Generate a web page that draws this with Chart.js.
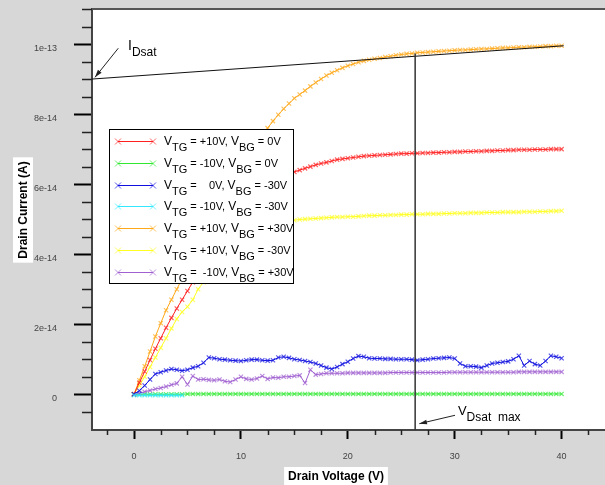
<!DOCTYPE html>
<html>

<head>
    <title>Drain current vs drain voltage</title>
    <script src="https://cdn.jsdelivr.net/npm/chart.js"></script>
    <style>
        body { margin: 0; background: #d7d7d7; }
    </style>
</head>

<body>
    <canvas id="ivChart" width="605" height="485"></canvas>
    <script>
        // drain voltage (V), shared by all curves
        const vd = [0, 0.5, 1, 1.5, 2, 2.5, 3, 3.5, 4, 4.5, 5, 5.5, 6, 6.5, 7, 7.5, 8, 8.5, 9, 9.5,
            10, 10.5, 11, 11.5, 12, 12.5, 13, 13.5, 14, 14.5, 15, 15.5, 16, 16.5, 17, 17.5, 18, 18.5, 19, 19.5,
            20, 20.5, 21, 21.5, 22, 22.5, 23, 23.5, 24, 24.5, 25, 25.5, 26, 26.5, 27, 27.5, 28, 28.5, 29, 29.5,
            30, 30.5, 31, 31.5, 32, 32.5, 33, 33.5, 34, 34.5, 35, 35.5, 36, 36.5, 37, 37.5, 38, 38.5, 39, 39.5, 40];

        // drain current, in units of 1e-14 A
        const iRed = [0, 0.33, 0.65, 0.98, 1.3, 1.6, 1.9, 2.18, 2.45, 2.7, 2.95, 3.2, 3.45, 3.68, 3.9, 4.1, 4.3, 4.5, 4.7, 4.88,
            5.05, 5.2, 5.35, 5.5, 5.65, 5.78, 5.9, 6.03, 6.15, 6.25, 6.35, 6.4, 6.45, 6.5, 6.55, 6.59, 6.62, 6.66, 6.7, 6.72,
            6.74, 6.76, 6.78, 6.8, 6.81, 6.82, 6.83, 6.84, 6.85, 6.86, 6.87, 6.87, 6.88, 6.88, 6.89, 6.89, 6.9, 6.9, 6.91, 6.91,
            6.92, 6.92, 6.93, 6.93, 6.94, 6.94, 6.95, 6.95, 6.96, 6.96, 6.97, 6.97, 6.98, 6.98, 6.98, 6.99, 6.99, 6.99, 7.0, 7.0, 7.0];
        const iGreen = [0, 0, 0, 0, 0, 0, 0, 0, 0, 0, 0.01, 0.01, 0.01, 0.01, 0.01, 0.01, 0.01, 0.01, 0.01, 0.01,
            0.01, 0.01, 0.01, 0.01, 0.01, 0.01, 0.01, 0.01, 0.01, 0.01, 0.01, 0.01, 0.01, 0.01, 0.01, 0.01, 0.01, 0.01, 0.01, 0.01,
            0.01, 0.01, 0.01, 0.01, 0.01, 0.01, 0.01, 0.01, 0.01, 0.01, 0.01, 0.01, 0.01, 0.01, 0.01, 0.01, 0.01, 0.01, 0.01, 0.01,
            0.01, 0.01, 0.01, 0.01, 0.01, 0.01, 0.01, 0.01, 0.01, 0.01, 0.01, 0.01, 0.01, 0.01, 0.01, 0.01, 0.01, 0.01, 0.01, 0.01, 0.01];
        const iBlue = [0, 0.1, 0.25, 0.42, 0.58, 0.63, 0.68, 0.72, 0.7, 0.67, 0.7, 0.76, 0.8, 0.9, 1.05, 1.03, 1.0, 0.99, 0.97, 0.96,
            0.95, 0.97, 0.99, 0.99, 0.97, 0.96, 0.97, 1.05, 1.07, 1.04, 1.0, 0.98, 0.95, 0.92, 0.88, 0.82, 0.76, 0.72, 0.78, 0.86,
            0.93, 1.02, 1.09, 1.07, 1.03, 1.02, 1.02, 1.01, 1.01, 1.0, 1.0, 1.0, 0.99, 0.97, 0.99, 1.0, 1.02, 1.03, 1.04, 1.05,
            1.02, 0.88, 0.8, 0.8, 0.79, 0.76, 0.82, 0.88, 0.9, 0.92, 0.94, 1.0, 1.1, 0.82, 0.95, 0.86, 0.82, 0.95, 1.1, 1.07, 1.03];
        const iCyan = [-0.03, -0.03, -0.03, -0.03, -0.03, -0.03, -0.03, -0.03, -0.03, -0.03];
        const iOrange = [0, 0.4, 0.8, 1.22, 1.65, 2.03, 2.4, 2.7, 3.0, 3.3, 3.6, 3.9, 4.2, 4.5, 4.8, 5.08, 5.35, 5.63, 5.9, 6.15,
            6.4, 6.65, 6.9, 7.15, 7.4, 7.6, 7.8, 7.98, 8.15, 8.3, 8.45, 8.56, 8.67, 8.79, 8.9, 9.0, 9.1, 9.18, 9.25, 9.32,
            9.38, 9.43, 9.48, 9.52, 9.55, 9.58, 9.6, 9.63, 9.65, 9.68, 9.7, 9.72, 9.73, 9.75, 9.76, 9.77, 9.78, 9.79, 9.8, 9.81,
            9.82, 9.83, 9.83, 9.84, 9.85, 9.86, 9.86, 9.87, 9.88, 9.89, 9.89, 9.9, 9.91, 9.91, 9.92, 9.92, 9.93, 9.94, 9.94, 9.95, 9.95];
        const iYellow = [0, 0.25, 0.5, 0.78, 1.05, 1.33, 1.6, 1.88, 2.15, 2.35, 2.5, 2.7, 3.0, 3.2, 3.4, 3.58, 3.75, 3.9, 4.05, 4.18,
            4.3, 4.4, 4.5, 4.58, 4.65, 4.73, 4.8, 4.85, 4.9, 4.94, 4.97, 4.99, 5.0, 5.01, 5.02, 5.03, 5.04, 5.05, 5.06, 5.06,
            5.07, 5.07, 5.08, 5.09, 5.1, 5.1, 5.11, 5.11, 5.12, 5.12, 5.13, 5.13, 5.14, 5.14, 5.14, 5.15, 5.15, 5.15, 5.16, 5.16,
            5.17, 5.17, 5.17, 5.18, 5.18, 5.18, 5.19, 5.19, 5.19, 5.2, 5.2, 5.2, 5.2, 5.21, 5.21, 5.21, 5.22, 5.22, 5.23, 5.23, 5.24];
        const iPurple = [0, 0.03, 0.07, 0.11, 0.15, 0.18, 0.22, 0.27, 0.31, 0.5, 0.28, 0.52, 0.42, 0.43, 0.41, 0.4, 0.42, 0.37, 0.35, 0.42,
            0.5, 0.44, 0.42, 0.45, 0.52, 0.44, 0.48, 0.47, 0.5, 0.5, 0.52, 0.54, 0.32, 0.7, 0.56, 0.58, 0.6, 0.6, 0.6, 0.6,
            0.61, 0.61, 0.61, 0.61, 0.61, 0.61, 0.61, 0.61, 0.62, 0.62, 0.62, 0.62, 0.62, 0.62, 0.62, 0.62, 0.62, 0.62, 0.62, 0.63,
            0.63, 0.63, 0.63, 0.63, 0.63, 0.63, 0.63, 0.63, 0.63, 0.63, 0.63, 0.63, 0.64, 0.64, 0.64, 0.64, 0.64, 0.64, 0.64, 0.64, 0.64];

        const seriesTG = ['+10V', '-10V', '   0V', '-10V', '+10V', '+10V', ' -10V'];
        const seriesBG = ['0V', '0V', '-30V', '-30V', '+30V', '-30V', '+30V'];
        const seriesColors = ['#ff2020', '#30e830', '#1010e0', '#30e8ff', '#ffa818', '#ffff20', '#a060d0'];
        const seriesOrder = [2, 3, 1, 0, 4, 5, 2];
        const seriesValues = [iRed, iGreen, iBlue, iCyan, iOrange, iYellow, iPurple];

        const xTicks = [0, 10, 20, 30, 40];
        const yTicks = [0, 2, 4, 6, 8, 10];
        const yTickLabels = ['0', '2e-14', '4e-14', '6e-14', '8e-14', '1e-13'];

        // I_Dsat line and V_Dsat max line (V, 1e-14 A)
        const idsatLineV = [-3.93, 40.2];
        const idsatLineI = [9.0, 9.95];
        const vdsatLineV = [26.3, 26.3];
        const vdsatLineI = [9.73, -1.02];
        const idsatArrow = { tail: [-1.47, 9.88], head: [-3.65, 9.05], text: [-0.56, 9.83] };
        const vdsatArrow = { tail: [30.03, -0.6], head: [26.69, -0.84], text: [30.3, -0.6] };

        const FONT = '"Liberation Sans", Arial, sans-serif';

        function withAlpha(hex, a) {
            const n = parseInt(hex.slice(1), 16);
            return `rgba(${n >> 16}, ${(n >> 8) & 255}, ${n & 255}, ${a})`;
        }

        const datasets = seriesValues.map((vals, k) => ({
            data: vals.map((v, i) => ({ x: vd[i], y: v })),
            order: seriesOrder[k],
            showLine: true,
            borderColor: seriesColors[k],
            borderWidth: 1,
            pointStyle: 'crossRot',
            pointRadius: 3,
            pointBorderWidth: 1.2,
            pointBorderColor: withAlpha(seriesColors[k], 0.7),
            pointBackgroundColor: 'transparent'
        }));

        function drawArrow(ctx, x1, y1, x2, y2) {
            ctx.beginPath();
            ctx.moveTo(x1, y1);
            ctx.lineTo(x2, y2);
            ctx.stroke();
            const a = Math.atan2(y2 - y1, x2 - x1);
            ctx.beginPath();
            ctx.moveTo(x2, y2);
            ctx.lineTo(x2 - 8 * Math.cos(a - 0.3), y2 - 8 * Math.sin(a - 0.3));
            ctx.lineTo(x2 - 8 * Math.cos(a + 0.3), y2 - 8 * Math.sin(a + 0.3));
            ctx.closePath();
            ctx.fill();
        }

        function drawSubText(ctx, x, y, main, sub, mainSize, subSize, drop) {
            ctx.font = mainSize + 'px ' + FONT;
            ctx.fillText(main, x, y);
            x += ctx.measureText(main).width;
            ctx.font = subSize + 'px ' + FONT;
            ctx.fillText(sub, x, y + drop);
            return x + ctx.measureText(sub).width;
        }

        function noPadding(s) {
            s.paddingTop = 0; s.paddingBottom = 0; s.paddingLeft = 0; s.paddingRight = 0;
        }

        const decorations = {
            id: 'decorations',
            beforeDraw(chart) {
                const { ctx, chartArea: a } = chart;
                ctx.save();
                ctx.fillStyle = '#d7d7d7';
                ctx.fillRect(0, 0, chart.width, chart.height);
                ctx.fillStyle = '#ffffff';
                ctx.fillRect(a.left, a.top, a.right - a.left, a.bottom - a.top);
                ctx.restore();
            },
            afterDraw(chart) {
                const { ctx, chartArea: a } = chart;
                const xs = chart.scales.x, ys = chart.scales.y;
                const px = v => xs.getPixelForValue(v), py = v => ys.getPixelForValue(v);
                ctx.save();

                // minor ticks
                ctx.strokeStyle = '#222';
                ctx.lineWidth = 1.5;
                ctx.beginPath();
                for (let v = -2.5; v <= 42.5; v += 2.5) {
                    if (v % 10 === 0) continue;
                    ctx.moveTo(Math.round(px(v)) + 0.5, a.bottom);
                    ctx.lineTo(Math.round(px(v)) + 0.5, a.bottom + 5);
                }
                for (let v = -0.5; v <= 11; v += 0.5) {
                    if (v % 2 === 0) continue;
                    ctx.moveTo(a.left - 10, Math.round(py(v)) + 0.5);
                    ctx.lineTo(a.left, Math.round(py(v)) + 0.5);
                }
                ctx.stroke();

                // top border
                ctx.strokeStyle = '#555';
                ctx.lineWidth = 2;
                ctx.beginPath();
                ctx.moveTo(a.left, a.top);
                ctx.lineTo(a.right, a.top);
                ctx.stroke();

                // I_Dsat and V_Dsat lines
                ctx.strokeStyle = '#111';
                ctx.lineWidth = 1;
                ctx.beginPath();
                ctx.moveTo(px(idsatLineV[0]), py(idsatLineI[0]));
                ctx.lineTo(px(idsatLineV[1]), py(idsatLineI[1]));
                ctx.stroke();
                ctx.strokeStyle = '#333';
                ctx.lineWidth = 1.5;
                ctx.beginPath();
                ctx.moveTo(px(vdsatLineV[0]), py(vdsatLineI[0]));
                ctx.lineTo(px(vdsatLineV[1]), py(vdsatLineI[1]));
                ctx.stroke();

                // arrows and labels
                ctx.strokeStyle = '#222';
                ctx.fillStyle = '#222';
                ctx.lineWidth = 1;
                drawArrow(ctx, px(idsatArrow.tail[0]), py(idsatArrow.tail[1]), px(idsatArrow.head[0]), py(idsatArrow.head[1]));
                drawArrow(ctx, px(vdsatArrow.tail[0]), py(vdsatArrow.tail[1]), px(vdsatArrow.head[0]), py(vdsatArrow.head[1]));
                ctx.fillStyle = '#000';
                ctx.textBaseline = 'alphabetic';
                ctx.textAlign = 'left';
                drawSubText(ctx, px(idsatArrow.text[0]), py(idsatArrow.text[1]), 'I', 'Dsat', 14, 12, 6);
                drawSubText(ctx, px(vdsatArrow.text[0]), py(vdsatArrow.text[1]), 'V', 'Dsat  max', 13, 12, 6);

                // legend
                const lx = 109, ly = 129, lw = 184, lh = 154;
                ctx.fillStyle = '#fff';
                ctx.fillRect(lx, ly, lw, lh);
                ctx.strokeStyle = '#000';
                ctx.lineWidth = 1;
                ctx.strokeRect(lx + 0.5, ly + 0.5, lw, lh);
                seriesColors.forEach((c, k) => {
                    const ry = Math.round(141 + k * 21.8) + 0.5;
                    ctx.strokeStyle = c;
                    ctx.beginPath();
                    ctx.moveTo(118, ry);
                    ctx.lineTo(153, ry);
                    ctx.stroke();
                    ctx.strokeStyle = withAlpha(c, 0.7);
                    ctx.beginPath();
                    [118, 153].forEach(mx => {
                        ctx.moveTo(mx - 3, ry - 3); ctx.lineTo(mx + 3, ry + 3);
                        ctx.moveTo(mx - 3, ry + 3); ctx.lineTo(mx + 3, ry - 3);
                    });
                    ctx.stroke();
                    ctx.fillStyle = '#000';
                    let tx = drawSubText(ctx, 164, ry + 3, 'V', 'TG', 12, 11, 6);
                    ctx.font = '11px ' + FONT;
                    const mid = ' = ' + seriesTG[k] + ', ';
                    ctx.fillText(mid, tx, ry + 3);
                    tx += ctx.measureText(mid).width;
                    tx = drawSubText(ctx, tx, ry + 3, 'V', 'BG', 12, 11, 6);
                    ctx.font = '11px ' + FONT;
                    ctx.fillText(' = ' + seriesBG[k], tx, ry + 3);
                });

                // axis titles on white boxes
                ctx.font = 'bold 12px ' + FONT;
                ctx.textAlign = 'center';
                ctx.textBaseline = 'middle';
                const xt = 'Drain Voltage (V)';
                const xw = ctx.measureText(xt).width;
                ctx.fillStyle = '#fff';
                ctx.fillRect(336 - xw / 2 - 4, 467, xw + 8, 18);
                ctx.fillStyle = '#000';
                ctx.fillText(xt, 336, 477);
                const yt = 'Drain Current (A)';
                const yw = ctx.measureText(yt).width;
                ctx.translate(23, 210);
                ctx.rotate(-Math.PI / 2);
                ctx.fillStyle = '#fff';
                ctx.fillRect(-yw / 2 - 4, -10, yw + 8, 20);
                ctx.fillStyle = '#000';
                ctx.fillText(yt, 0, 1);
                ctx.restore();
            }
        };

        new Chart(document.getElementById('ivChart'), {
            type: 'scatter',
            data: { datasets: datasets },
            options: {
                responsive: false,
                animation: false,
                layout: { autoPadding: false, padding: { top: 9, right: 0, left: 0, bottom: 0 } },
                plugins: { legend: { display: false }, tooltip: { enabled: false } },
                scales: {
                    x: {
                        type: 'linear',
                        min: -3.93,
                        max: 44.06,
                        afterFit: s => { s.height = 55; noPadding(s); },
                        afterBuildTicks: s => { s.ticks = xTicks.map(v => ({ value: v })); },
                        grid: { drawOnChartArea: false, tickLength: 9, tickColor: '#000', tickWidth: 2 },
                        border: { color: '#444', width: 2 },
                        ticks: {
                            padding: 12,
                            color: '#444',
                            font: { family: FONT, size: 9 },
                            maxRotation: 0,
                            callback: v => String(v)
                        }
                    },
                    y: {
                        type: 'linear',
                        min: -1.02,
                        max: 11,
                        afterFit: s => { s.width = 92; noPadding(s); },
                        afterBuildTicks: s => { s.ticks = yTicks.map(v => ({ value: v })); },
                        grid: { drawOnChartArea: false, tickLength: 18, tickColor: '#000', tickWidth: 2 },
                        border: { color: '#444', width: 2 },
                        ticks: {
                            padding: 17,
                            labelOffset: 4,
                            color: '#444',
                            font: { family: FONT, size: 9 },
                            callback: v => yTickLabels[yTicks.indexOf(v)]
                        }
                    }
                }
            },
            plugins: [decorations]
        });
    </script>
</body>

</html>
